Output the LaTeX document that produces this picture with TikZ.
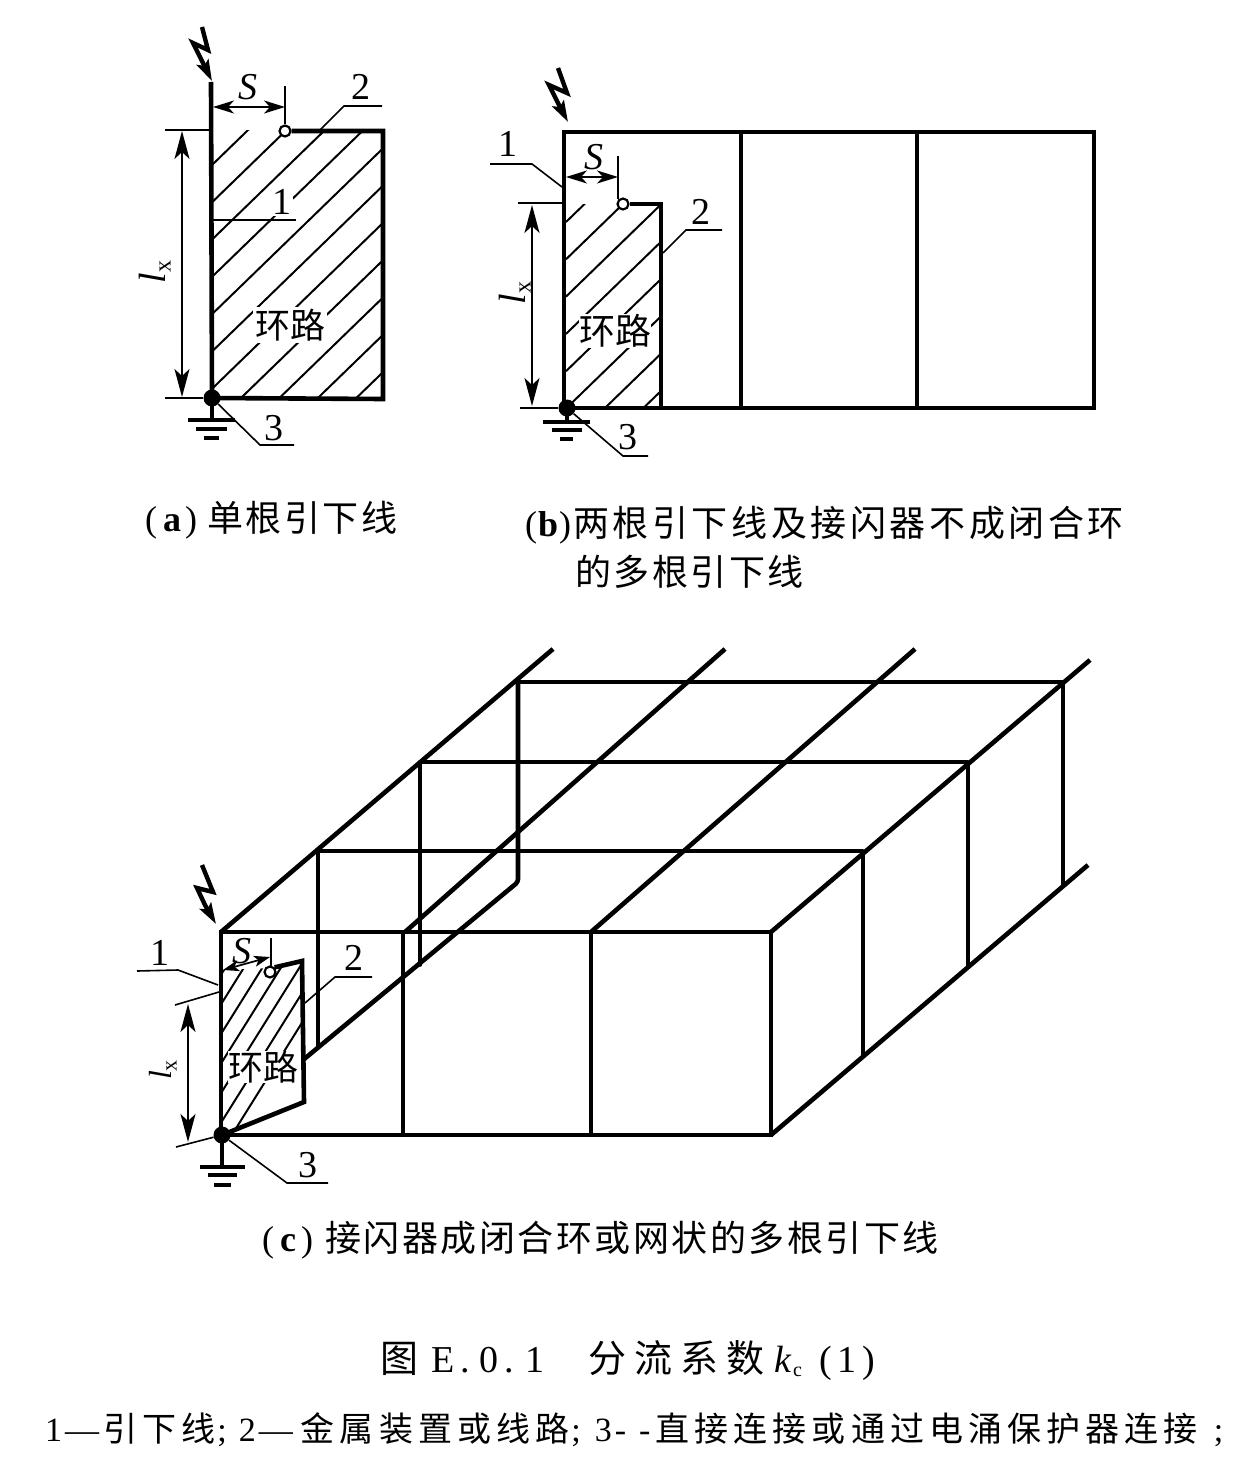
\documentclass[tikz,border=0pt]{standalone}
\usepackage{fontspec}
\setmainfont{Liberation Serif}
\newfontfamily\cjkcap[LetterSpace=7]{Noto Sans CJK SC}
\newfontfamily\cjkcapb[LetterSpace=10]{Noto Sans CJK SC}
\newfontfamily\cjktitle[LetterSpace=21]{Noto Sans CJK SC}
\newfontfamily\cjkfoot[LetterSpace=15]{Noto Sans CJK SC}
\newfontfamily\cjkloop{Noto Sans CJK SC}
\usetikzlibrary{arrows.meta}
\tikzset{
 wire/.style={line width=4.6pt,line join=miter},
 wirethin/.style={line width=3.6pt,line cap=round},
 leader/.style={line width=1.6pt},
 hatchline/.style={line width=2pt},
 dimline/.style={line width=1.7pt,{Stealth[length=28pt,width=15pt,inset=7pt]}-{Stealth[length=28pt,width=15pt,inset=7pt]}},
 sdim/.style={line width=1.7pt,{Stealth[length=21pt,width=13pt,inset=6pt]}-{Stealth[length=21pt,width=13pt,inset=6pt]}},
 sdimc/.style={line width=1.7pt,{Stealth[length=16pt,width=11pt,inset=4pt]}-{Stealth[length=16pt,width=11pt,inset=4pt]}},
 boltline/.style={line width=4.4pt,line join=miter,-{Stealth[length=21pt,width=13pt,inset=4pt]}},
 junction/.style={circle,fill=black,inner sep=0pt,minimum size=17pt},
 opencirc/.style={circle,draw=black,fill=white,line width=2.2pt,inner sep=0pt,minimum size=11pt},
 numlabel/.style={inner sep=0pt,font=\fontsize{38}{38}\selectfont},
 dimlabel/.style={inner sep=0pt,font=\fontsize{38}{38}\selectfont\itshape},
 looplabel/.style={fill=white,inner sep=2pt,font=\fontsize{35}{35}\selectfont\cjkloop},
 caption/.style={inner sep=0pt,anchor=west,font=\fontsize{36}{36}\selectfont},
 gbar1/.style={line width=3.6pt},
 gbar2/.style={line width=3.2pt},
 gbar3/.style={line width=3.2pt},
}
\begin{document}
\begin{tikzpicture}[x=1pt,y=-1pt]
\useasboundingbox[fill=white] (0,0) rectangle (1246,1466);

%% ---------- panel (a) ----------
\begin{scope}
 \clip (212,131) rectangle (382,398);
 \foreach \k in {-1,...,13} {
  \draw[hatchline] (212,165+37.3*\k) -- (412,165+37.3*\k-194);
 }
\end{scope}
\node[looplabel] (aloop) at (290,325) {环路};
\coordinate (aTop) at (211,82);
\coordinate (aTR) at (383,131);
\coordinate (aBR) at (383,399);
\node[junction] (aDot) at (212,398) {};
\node[opencirc] (aOpen) at (285,131) {};
\draw[wire] (aTop) -- (aDot.center) -- (aBR) -- (aTR) -- (aOpen.east);
\draw[boltline] (202,27) -- (208,50) -- (193,43) -- (203,63) -- (212,81);
% S
\coordinate (aS1) at (213,107); \coordinate (aS2) at (285,107);
\draw[leader] (aOpen.north) -- (285,86);
\draw[sdim] (aS1) -- (aS2);
\node[dimlabel] (aSlab) at (248,87) {S};
% lx
\coordinate (aExT) at (165,130); \coordinate (aExB) at (165,398);
\draw[leader] (aExT) -- (209,130);
\draw[leader] (aExB) -- (aDot);
\draw[dimline] (182,131) -- (182,397);
\node[inner sep=0pt,rotate=90] (aLx) at (155,272) {\fontsize{38}{38}\selectfont\itshape l\fontsize{24}{24}\selectfont\raisebox{-5pt}{\upshape x}};
% leaders
\draw[leader] (320,130) -- (344,106) -- (382,106);
\node[numlabel] (aN2) at (361,87) {2};
\draw[leader] (212,220) -- (296,220);
\node[numlabel,fill=white,inner sep=1pt] (aN1) at (282,202) {1};
\draw[leader] (aDot) -- (260,445) -- (294,445);
\node[numlabel] (aN3) at (274,428) {3};
% ground
\draw[wirethin] (aDot.center) -- (212,420);
\draw[gbar1] (188,420) -- (235,420);
\draw[gbar2] (196,429) -- (227,429);
\draw[gbar3] (204,438) -- (219,438);

%% ---------- panel (b) ----------
\begin{scope}
 \clip (565,204) rectangle (661,408);
 \foreach \k in {0,...,10} {
  \draw[hatchline] (566,222+37.3*\k) -- (766,222+37.3*\k-194);
 }
\end{scope}
\node[looplabel,inner sep=0pt,font=\fontsize{36}{36}\selectfont\cjkloop] (bloop) at (615,331) {环路};
\node[junction] (bDot) at (567,408) {};
\node[opencirc] (bOpen) at (623,204) {};
\draw[wire] (564,132) rectangle (1094,408);
\draw[wire] (741,132) -- (741,408);
\draw[wire] (917,132) -- (917,408);
\draw[wire] (bOpen.east) -- (661,204) -- (661,408);
\draw[boltline] (558,68) -- (567,93) -- (549,85) -- (560,107) -- (568,122);
% S
\draw[leader] (618,199) -- (618,156);
\draw[sdim] (566,177) -- (618,177);
\node[dimlabel] (bSlab) at (594,157) {S};
% lx
\draw[leader] (518,203) -- (563,203);
\draw[leader] (520,408) -- (bDot);
\draw[dimline] (532,205) -- (532,406);
\node[inner sep=0pt,rotate=90] (bLx) at (515,293) {\fontsize{38}{38}\selectfont\itshape l\fontsize{24}{24}\selectfont\raisebox{-5pt}{\upshape x}};
% leaders
\draw[leader] (490,164) -- (532,164) -- (562,187);
\node[numlabel] (bN1) at (508,144) {1};
\draw[leader] (663,253) -- (686,230) -- (722,230);
\node[numlabel] (bN2) at (701,212) {2};
\draw[leader] (bDot) -- (623,456) -- (648,456);
\node[numlabel] (bN3) at (628,437) {3};
% ground
\draw[wirethin] (bDot.center) -- (567,422);
\draw[gbar1] (543,422) -- (590,422);
\draw[gbar2] (552,430) -- (582,430);
\draw[gbar3] (560,439) -- (573,439);

%% ---------- captions ----------
\node[caption] (capA) at (145,520) {(\kern6pt\textbf{a}\kern4pt)\kern10pt{\cjkcap 单根引下线}};
\node[caption] (capB) at (525,525) {(\kern1pt\textbf{b}\kern1pt)\kern2pt{\cjkcapb 两根引下线及接闪器不成闭合环}};
\node[caption] (capB2) at (575,572) {{\cjkcap 的多根引下线}};
\node[caption] (capC) at (262,1240) {(\kern6pt\textbf{c}\kern5pt)\kern12pt{\cjkcap 接闪器成闭合环或网状的多根引下线}};

%% ---------- panel (c) ----------
% roof rows
\draw[wire] (517,682) -- (1063,682);
\draw[wire] (420,762) -- (968,762);
\draw[wire] (318,851) -- (863,851);
% roof diagonals
\draw[wire] (221,932) -- (553,649);
\draw[wire] (405,932) -- (725,649);
\draw[wire] (591,932) -- (915,649);
\draw[wire] (771,932) -- (1090,660);
% ground diagonals
\draw[wire] (771,1135) -- (1088,865);
\draw[wire,rounded corners=3pt] (303,1060) -- (518,882) -- (518,682);
% back verticals
\draw[wirethin] (318,851) -- (318,1047);
\draw[wirethin] (420,762) -- (420,965);
\draw[wirethin] (863,851) -- (863,1055);
\draw[wirethin] (968,762) -- (968,965);
\draw[wirethin] (1063,682) -- (1063,885);
% hatch of loop
\begin{scope}
 \clip (223,970) -- (270,968) -- (301,961) -- (303,1101) -- (222,1133) -- cycle;
 \foreach \k in {-4,...,3} {
  \draw[hatchline] ({260.7+18.5*\k+62.5},900) -- ({260.7+18.5*\k-93.75},1150);
 }
\end{scope}
\node[looplabel,inner sep=0pt] (cloop) at (263,1067) {环路};
% front face
\node[junction] (cDot) at (222,1135) {};
\node[opencirc] (cOpen) at (270,972) {};
\draw[wire] (221,932) rectangle (771,1135);
\draw[wire] (403,932) -- (403,1135);
\draw[wire] (591,932) -- (591,1135);
\draw[wire] (cOpen.north east) -- (302,961) -- (304,1102) -- (cDot.center);
\draw[boltline] (202,865) -- (213,892) -- (197,888) -- (205,905) -- (216,924);
% S
\draw[leader] (271,966) -- (271,938);
\draw[sdimc] (223,970) -- (270,957);
\node[dimlabel] (cSlab) at (242,951) {S};
% lx
\draw[leader] (175,1005) -- (219,992);
\draw[leader] (176,1147) -- (cDot);
\draw[dimline] (188,1004) -- (188,1142);
\node[inner sep=0pt,rotate=90,font=\fontsize{32}{32}\selectfont] (cLx) at (163,1070) {\itshape l\fontsize{22}{22}\selectfont\raisebox{-5pt}{\upshape x}};
% leaders
\draw[leader] (137,971) -- (178,970) -- (218,985);
\node[numlabel] (cN1) at (160,953) {1};
\draw[leader] (305,1003) -- (335,977) -- (372,977);
\node[numlabel] (cN2) at (354,958) {2};
\draw[leader] (cDot) -- (287,1183) -- (328,1183);
\node[numlabel] (cN3) at (308,1165) {3};
% ground
\draw[wirethin] (cDot.center) -- (222,1167);
\draw[gbar1] (200,1167) -- (245,1167);
\draw[gbar2] (208,1175) -- (237,1175);
\draw[gbar3] (214,1185) -- (231,1185);

%% ---------- title & legend ----------
\node[caption,font=\fontsize{38}{38}\selectfont] (title) at (380,1361) {{\cjktitle 图}\kern13pt E\kern6pt.\kern10pt 0\kern6pt.\kern11pt 1\kern44pt{\cjktitle 分流系数}\kern10pt{\itshape k}\kern2pt{\fontsize{20}{20}\selectfont\raisebox{-4pt}{c}}\kern17pt(\kern6pt1\kern6pt)};
\node[caption,font=\fontsize{34}{34}\selectfont] (legend) at (45,1430) {1\kern3pt—\kern4pt{\cjkfoot 引下线}\kern2pt;\kern12pt 2\kern3pt—\kern8pt{\cjkfoot 金属装置或线路}\kern2pt;\kern14pt 3\kern3pt-\kern13pt-\kern5pt{\cjkfoot 直接连接或通过电涌保护器连接}\kern16pt;};
\end{tikzpicture}
\end{document}
